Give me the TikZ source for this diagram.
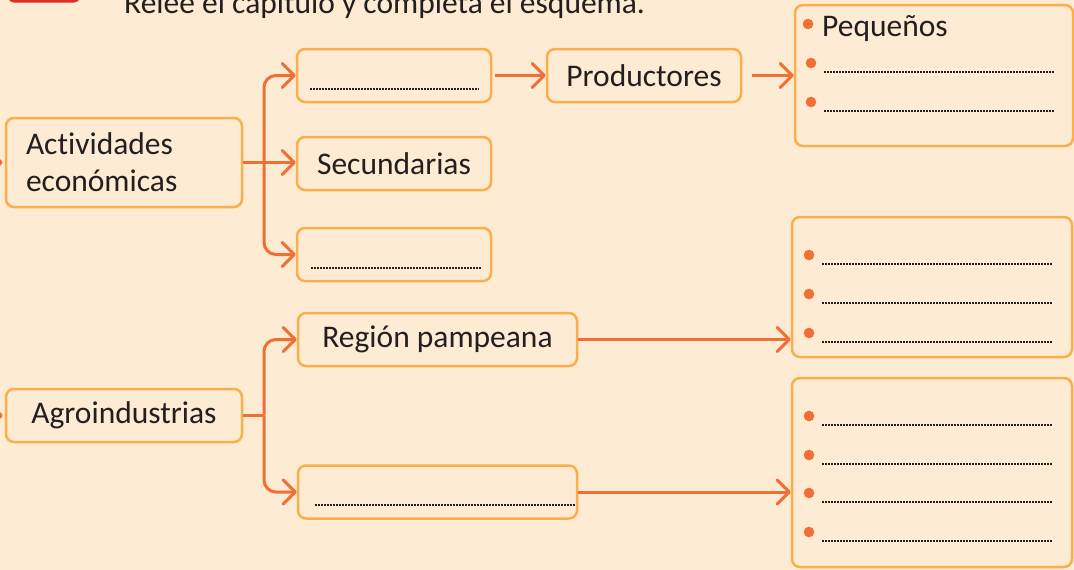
\documentclass[tikz,border=0pt]{standalone}
\usepackage{fontspec}
\setmainfont{Carlito}[Ligatures=NoCommon]
\usetikzlibrary{arrows.meta,calc}
\definecolor{bgpeach}{HTML}{FDEBD3}
\definecolor{boxline}{HTML}{FBAF4B}
\definecolor{linkorange}{HTML}{F26F33}
\definecolor{inkgray}{HTML}{231F20}
\definecolor{tabred}{HTML}{DE2F27}

\begin{document}
\begin{tikzpicture}[x=1pt,y=-1pt,
	box/.style={draw=boxline,line width=2.5pt,rounded corners=8pt,fill=bgpeach,inner sep=0pt,text=inkgray,font=\fontsize{31.5}{37}\selectfont},
	link/.style={draw=linkorange,line width=3pt},
	conn/.style={link,-{Straight Barb[length=12pt,width=24pt,round]}},
	blank/.style={draw=inkgray,line width=1.5pt,dash pattern=on 1.5pt off 1.5pt},
	dotmark/.style={fill=linkorange}]
	\useasboundingbox (0,0) rectangle (1074,570);
	\fill[bgpeach] (0,0) rectangle (1074,570);
	\fill[tabred,rounded corners=6pt] (8,-30) rectangle (80,2.5);
	\node[anchor=base west,inner sep=0pt,text=inkgray,font=\fontsize{31.5}{36}\selectfont] (title) at (124,13) {Relee el capítulo y completa el esquema.};

	\node[box,minimum width=236pt,minimum height=89pt,text width=196pt,align=left] (act) at (124,162.5) {Actividades\\económicas};
	\node[box,minimum width=194pt,minimum height=53pt] (pa) at (394,75.5) {};
	\node[box,minimum width=194pt,minimum height=53pt] (prod) at (644,75.5) {Productores};
	\node[box,minimum width=278pt,minimum height=141pt] (peq) at (934,75.5) {};
	\node[box,minimum width=194pt,minimum height=53pt] (sec) at (394,163.5) {Secundarias};
	\node[box,minimum width=194pt,minimum height=53pt] (pc) at (394,254.5) {};
	\node[box,minimum width=279pt,minimum height=53pt] (reg) at (437.5,339.5) {Región pampeana};
	\node[box,minimum width=236pt,minimum height=53pt] (agro) at (124,415.5) {Agroindustrias};
	\node[box,minimum width=279pt,minimum height=53pt] (rb) at (437.5,492) {};
	\node[box,minimum width=280pt,minimum height=140pt] (lr1) at (932,287) {};
	\node[box,minimum width=280pt,minimum height=189pt] (lr2) at (932,472.5) {};

	\coordinate (inA) at (-40,162.5);
	\coordinate (inB) at (-40,415.5);
	\coordinate (forkA) at (264,162.5);
	\coordinate (forkB) at (264,415.5);

	\draw[conn,shorten >=2pt] (inA) -- (act.west);
	\draw[conn,shorten >=2pt] (inB) -- (agro.west);
	\draw[conn] (act.east) -- (act.east -| sec.west);
	\draw[conn,rounded corners=12pt] (forkA) |- (pa.west);
	\draw[conn,rounded corners=12pt] (forkA) |- (pc.west);
	\draw[conn,shorten <=3pt] (pa.east) -- (prod.west);
	\draw[conn,shorten <=10pt] (prod.east) -- (peq.west);
	\draw[link] (agro.east) -- (forkB);
	\draw[conn,rounded corners=12pt] (forkB) |- (reg.west);
	\draw[conn,rounded corners=12pt] (forkB) |- (rb.west);
	\draw[conn] (reg.east) -- (reg.east -| lr1.west);
	\draw[conn] (rb.east) -- (rb.east -| lr2.west);

	\draw[blank] (310,89) -- (479,89);
	\draw[blank] (311,268) -- (481,268);
	\draw[blank] (315,505) -- (576,505);

	\fill[dotmark] (808,24) circle (5.3pt);
	\node[anchor=base west,inner sep=0pt,text=inkgray,font=\fontsize{31.5}{36}\selectfont] (small) at (822,36) {Pequeños};
	\foreach \y in {63,102} {
		\fill[dotmark] (811,\y) circle (5.3pt);
		\draw[blank] (824,\y+9) -- (1055,\y+9);
	}
	\foreach \y in {255,294,333,416,455,493,532} {
		\fill[dotmark] (809,\y) circle (5.3pt);
		\draw[blank] (822,\y+9) -- (1052,\y+9);
	}
\end{tikzpicture}
\end{document}
